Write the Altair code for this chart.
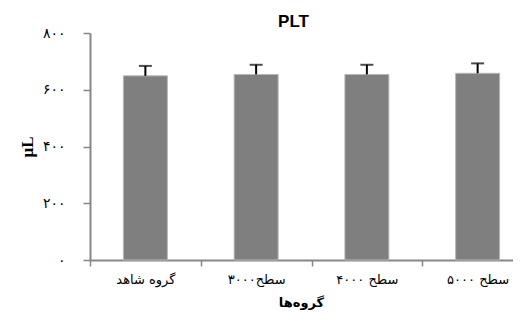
import altair as alt
import pandas as pd

categories = ["گروه شاهد", "سطح۳۰۰۰", "سطح ۴۰۰۰", "سطح ۵۰۰۰"]
values = [649, 654, 654, 658]
errors = [35, 34, 34, 35]
y_ticks = [0, 200, 400, 600, 800]
y_tick_labels = ["۰", "۲۰۰", "۴۰۰", "۶۰۰", "۸۰۰"]

df = pd.DataFrame({"cat": categories, "value": values, "err": errors})
df["top"] = df["value"] + df["err"]

label_expr = "''"
for v, lab in zip(reversed(y_ticks), reversed(y_tick_labels)):
    label_expr = f"datum.value == {v} ? '{lab}' : ({label_expr})"

fa_font = "DejaVu Sans"
axis_gray = "#868686"

x_enc = alt.X(
    "cat:N",
    sort=categories,
    scale=alt.Scale(domain=categories, range=[0, 443], paddingInner=0, paddingOuter=0),
    axis=alt.Axis(
        title="گروه‌ها",
        titleFont=fa_font,
        titleFontSize=13,
        titleFontWeight="bold",
        titleColor="black",
        titleX=211,
        titleY=42,
        titleBaseline="middle",
        labelAngle=0,
        labelFont=fa_font,
        labelFontSize=13,
        labelColor="black",
        labelPadding=7,
        tickBand="extent",
        tickSize=6,
        tickColor=axis_gray,
        tickWidth=1.5,
        domainColor=axis_gray,
        domainWidth=2,
        grid=False,
    ),
)

y_scale = alt.Scale(domain=[0, 800], nice=False)

bars = alt.Chart(df).mark_bar(size=44, color="#7f7f7f", stroke="#b8b8b8", strokeWidth=1).encode(
    x=x_enc,
    y=alt.Y(
        "value:Q",
        scale=y_scale,
        axis=alt.Axis(
            title="µL",
            titleFont="Liberation Serif",
            titleFontSize=17,
            titleFontWeight="bold",
            titleColor="black",
            titleX=-63,
            titleBaseline="middle",
            values=y_ticks,
            labelExpr=label_expr,
            labelFont=fa_font,
            labelFontSize=14,
            labelColor="black",
            labelPadding=18,
            tickSize=7,
            tickColor=axis_gray,
            tickWidth=1.5,
            domainColor=axis_gray,
            domainWidth=2,
            grid=False,
        ),
    ),
)

stems = alt.Chart(df).mark_rule(color="black", strokeWidth=2).encode(
    x=alt.X("cat:N", sort=categories),
    y="value:Q",
    y2="top:Q",
)

caps = alt.Chart(df).mark_tick(color="black", size=13, thickness=2, orient="horizontal").encode(
    x=alt.X("cat:N", sort=categories),
    y="top:Q",
)

chart = (
    alt.layer(bars, stems, caps)
    .properties(
        width=423,
        height=227,
        title=alt.TitleParams(
            "PLT", font="Liberation Sans", fontSize=17, fontWeight="bold", color="black", dx=-8, offset=-5
        ),
        autosize=alt.AutoSizeParams(type="none"),
        padding={"left": 82, "top": 25, "right": 0, "bottom": 50},
    )
    .configure_view(stroke=None)
)

chart.save("out.html", embed_options={"renderer": "svg", "actions": False})
